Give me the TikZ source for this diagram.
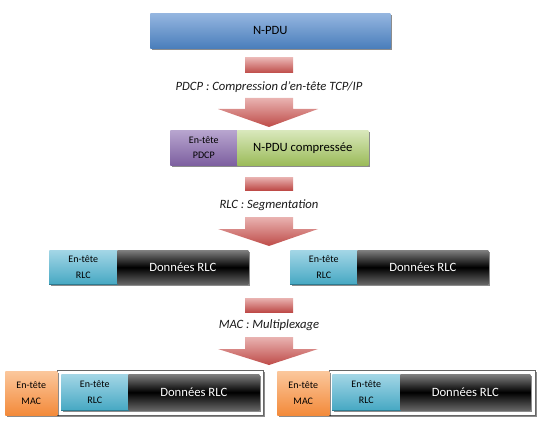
\documentclass[tikz,border=0pt]{standalone}
\usepackage{fontspec}
\setmainfont{Carlito}
\usetikzlibrary{shadows}
\definecolor{bluetop}{HTML}{95B6E0}
\definecolor{bluebot}{HTML}{4A7EBB}
\definecolor{purtop}{HTML}{B8A5CF}
\definecolor{purbot}{HTML}{7D60A0}
\definecolor{grntop}{HTML}{D9E8BC}
\definecolor{grnbot}{HTML}{9BBB59}
\definecolor{cyantop}{HTML}{A3D6E6}
\definecolor{cyanbot}{HTML}{46A8C3}
\definecolor{cyanedge}{HTML}{2E7A90}
\definecolor{orgtop}{HTML}{FBC79C}
\definecolor{orgbot}{HTML}{F38A3A}
\definecolor{arrtop}{HTML}{E9B3B1}
\definecolor{arrbot}{HTML}{BE4B48}
\begin{document}
\begin{tikzpicture}[x=0.75pt,y=-0.75pt,
  box/.style={anchor=north west, inner sep=0pt, align=center,
    drop shadow={shadow xshift=1.3pt,shadow yshift=-1.3pt,opacity=0.45,fill=black}},
  bigtxt/.style={font=\fontsize{9.5}{11}\selectfont},
  smalltxt/.style={font=\fontsize{7.5}{11.5}\selectfont},
  npdubox/.style={box, bigtxt, top color=bluetop, bottom color=bluebot},
  purbox/.style={box, smalltxt, top color=purtop, bottom color=purbot},
  grnbox/.style={box, bigtxt, top color=grntop, bottom color=grnbot},
  cyanbox/.style={box, smalltxt, top color=cyantop, bottom color=cyanbot},
  blkbox/.style={box, bigtxt, text=white, top color=black!50, bottom color=black!60, middle color=black},
  orgbox/.style={box, smalltxt, top color=orgtop, bottom color=orgbot},
  framebox/.style={box, fill=white, draw=black!60, line width=0.5pt},
  arrowfill/.style={top color=arrtop, bottom color=arrbot},
  lbl/.style={font=\fontsize{9.5}{11}\selectfont\itshape, text=black!90, inner sep=0pt}
]
\useasboundingbox (0,0) rectangle (542,424);

% N-PDU
\node[npdubox, minimum width=180pt, minimum height=26.25pt] (npdu) at (150,13) {N-PDU};

% arrow 1
\shade[arrowfill] (245,58) rectangle (293,73);
\node[lbl] (l1) at (269,87) {PDCP : Compression d’en-tête TCP/IP};
\shade[arrowfill] (245,98) -- (293,98) -- (293,109) -- (318,109) -- (269,127) -- (218,109) -- (245,109) -- cycle;

% PDCP row
\node[purbox, minimum width=50.25pt, minimum height=26.25pt] (ph) at (170,130) {En-tête\\PDCP};
\node[grnbox, minimum width=98.25pt, minimum height=26.25pt] (pd) at (237,130) {N-PDU compressée};

% arrow 2
\shade[arrowfill] (245,177) rectangle (293,190);
\node[lbl] (l2) at (269,205) {RLC : Segmentation};
\shade[arrowfill] (245,217) -- (293,217) -- (293,229) -- (318,229) -- (269,246) -- (218,229) -- (245,229) -- cycle;

% RLC row
\node[cyanbox, minimum width=51pt, minimum height=25.5pt] (rh1) at (49,250) {En-tête\\RLC};
\node[blkbox, minimum width=98.25pt, minimum height=25.5pt] (rd1) at (117,250) {Données RLC};
\node[cyanbox, minimum width=50.25pt, minimum height=25.5pt] (rh2) at (290,250) {En-tête\\RLC};
\node[blkbox, minimum width=98.25pt, minimum height=25.5pt] (rd2) at (357,250) {Données RLC};

% arrow 3
\shade[arrowfill] (245,298) rectangle (293,312);
\node[lbl] (l3) at (269,325) {MAC : Multiplexage};
\shade[arrowfill] (245,337) -- (293,337) -- (293,349) -- (318,349) -- (269,365) -- (218,349) -- (245,349) -- cycle;

% bottom row left
\node[framebox, minimum width=154.5pt, minimum height=33.75pt] (f1) at (57,370) {};
\node[orgbox, minimum width=39pt, minimum height=33pt] (mh1) at (5,371) {En-tête\\MAC};
\node[cyanbox, minimum width=50.25pt, minimum height=27pt] (brh1) at (61,374) {En-tête\\RLC};
\node[blkbox, minimum width=98.25pt, minimum height=27pt] (brd1) at (128,374) {Données RLC};

% bottom row right
\node[framebox, minimum width=154.5pt, minimum height=33.75pt] (f2) at (329,370) {};
\node[orgbox, minimum width=39pt, minimum height=33pt] (mh2) at (277,371) {En-tête\\MAC};
\node[cyanbox, minimum width=51pt, minimum height=27pt] (brh2) at (332,374) {En-tête\\RLC};
\node[blkbox, minimum width=97.5pt, minimum height=27pt] (brd2) at (400,374) {Données RLC};

% dark lower edges of cyan headers
\foreach \n in {rh1,rh2,brh1,brh2}{
  \draw[cyanedge, line width=1pt] (\n.south west) -- (\n.south east);
}
\end{tikzpicture}
\end{document}
